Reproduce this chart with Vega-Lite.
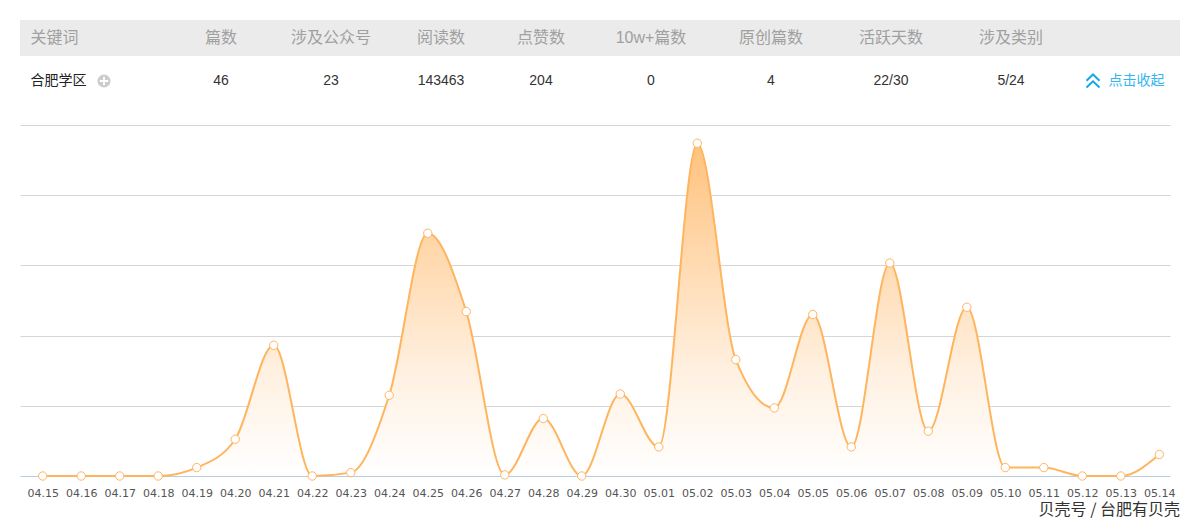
{
  "$schema": "https://vega.github.io/schema/vega-lite/v6.json",
  "background": "#ffffff",
  "padding": {"left": 20, "top": 20, "right": 0, "bottom": 0},
  "config": {"view": {"stroke": null}, "concat": {"spacing": 0}},
  "bounds": "full",
  "spacing": 19,
  "vconcat": [
    {
      "bounds": "full",
      "spacing": 0,
      "vconcat": [
        {
          "bounds": "flush",
          "spacing": 0,
          "hconcat": [
            {"width": 69, "height": 36, "view": {"fill": "#ebebeb", "stroke": null}, "data": {"values": [{"t": "关键词"}]}, "mark": {"type": "text", "font": "Liberation Sans, Noto Sans CJK SC", "fontSize": 16, "color": "#a0a0a0", "baseline": "middle"}, "encoding": {"text": {"field": "t"}}},
            {"width": 77, "height": 36, "view": {"fill": "#ebebeb", "stroke": null}, "data": {"values": [{}]}, "mark": {"type": "text", "text": ""}},
            {"width": 110, "height": 36, "view": {"fill": "#ebebeb", "stroke": null}, "data": {"values": [{"t": "篇数"}]}, "mark": {"type": "text", "font": "Liberation Sans, Noto Sans CJK SC", "fontSize": 16, "color": "#a0a0a0", "baseline": "middle"}, "encoding": {"text": {"field": "t"}}},
            {"width": 110, "height": 36, "view": {"fill": "#ebebeb", "stroke": null}, "data": {"values": [{"t": "涉及公众号"}]}, "mark": {"type": "text", "font": "Liberation Sans, Noto Sans CJK SC", "fontSize": 16, "color": "#a0a0a0", "baseline": "middle"}, "encoding": {"text": {"field": "t"}}},
            {"width": 110, "height": 36, "view": {"fill": "#ebebeb", "stroke": null}, "data": {"values": [{"t": "阅读数"}]}, "mark": {"type": "text", "font": "Liberation Sans, Noto Sans CJK SC", "fontSize": 16, "color": "#a0a0a0", "baseline": "middle"}, "encoding": {"text": {"field": "t"}}},
            {"width": 90, "height": 36, "view": {"fill": "#ebebeb", "stroke": null}, "data": {"values": [{"t": "点赞数"}]}, "mark": {"type": "text", "font": "Liberation Sans, Noto Sans CJK SC", "fontSize": 16, "color": "#a0a0a0", "baseline": "middle"}, "encoding": {"text": {"field": "t"}}},
            {"width": 130, "height": 36, "view": {"fill": "#ebebeb", "stroke": null}, "data": {"values": [{"t": "10w+篇数"}]}, "mark": {"type": "text", "font": "Liberation Sans, Noto Sans CJK SC", "fontSize": 16, "color": "#a0a0a0", "baseline": "middle"}, "encoding": {"text": {"field": "t"}}},
            {"width": 110, "height": 36, "view": {"fill": "#ebebeb", "stroke": null}, "data": {"values": [{"t": "原创篇数"}]}, "mark": {"type": "text", "font": "Liberation Sans, Noto Sans CJK SC", "fontSize": 16, "color": "#a0a0a0", "baseline": "middle"}, "encoding": {"text": {"field": "t"}}},
            {"width": 130, "height": 36, "view": {"fill": "#ebebeb", "stroke": null}, "data": {"values": [{"t": "活跃天数"}]}, "mark": {"type": "text", "font": "Liberation Sans, Noto Sans CJK SC", "fontSize": 16, "color": "#a0a0a0", "baseline": "middle"}, "encoding": {"text": {"field": "t"}}},
            {"width": 110, "height": 36, "view": {"fill": "#ebebeb", "stroke": null}, "data": {"values": [{"t": "涉及类别"}]}, "mark": {"type": "text", "font": "Liberation Sans, Noto Sans CJK SC", "fontSize": 16, "color": "#a0a0a0", "baseline": "middle"}, "encoding": {"text": {"field": "t"}}},
            {"width": 114, "height": 36, "view": {"fill": "#ebebeb", "stroke": null}, "data": {"values": [{}]}, "mark": {"type": "text", "text": ""}}
          ]
        },
        {
          "bounds": "flush",
          "spacing": 0,
          "hconcat": [
            {"width": 77, "height": 50, "data": {"values": [{"t": "合肥学区"}]}, "mark": {"type": "text", "font": "Liberation Sans, Noto Sans CJK SC", "fontSize": 14, "color": "#222222", "baseline": "middle"}, "encoding": {"text": {"field": "t"}}},
            {"width": 14, "height": 50, "data": {"values": [{}]}, "layer": [
              {"mark": {"type": "point", "shape": "circle", "filled": true, "color": "#cccccc", "opacity": 1, "size": 170}},
              {"mark": {"type": "point", "shape": "M-1,0L1,0M0,-1L0,1", "filled": false, "color": "#ffffff", "opacity": 1, "strokeWidth": 1.8, "size": 72}}
            ]},
            {"width": 55, "height": 50, "data": {"values": [{}]}, "mark": {"type": "text", "text": ""}},
            {"width": 110, "height": 50, "data": {"values": [{"t": "46"}]}, "mark": {"type": "text", "font": "Liberation Sans, Noto Sans CJK SC", "fontSize": 14, "color": "#333333", "baseline": "middle"}, "encoding": {"text": {"field": "t"}}},
            {"width": 110, "height": 50, "data": {"values": [{"t": "23"}]}, "mark": {"type": "text", "font": "Liberation Sans, Noto Sans CJK SC", "fontSize": 14, "color": "#333333", "baseline": "middle"}, "encoding": {"text": {"field": "t"}}},
            {"width": 110, "height": 50, "data": {"values": [{"t": "143463"}]}, "mark": {"type": "text", "font": "Liberation Sans, Noto Sans CJK SC", "fontSize": 14, "color": "#333333", "baseline": "middle"}, "encoding": {"text": {"field": "t"}}},
            {"width": 90, "height": 50, "data": {"values": [{"t": "204"}]}, "mark": {"type": "text", "font": "Liberation Sans, Noto Sans CJK SC", "fontSize": 14, "color": "#333333", "baseline": "middle"}, "encoding": {"text": {"field": "t"}}},
            {"width": 130, "height": 50, "data": {"values": [{"t": "0"}]}, "mark": {"type": "text", "font": "Liberation Sans, Noto Sans CJK SC", "fontSize": 14, "color": "#333333", "baseline": "middle"}, "encoding": {"text": {"field": "t"}}},
            {"width": 110, "height": 50, "data": {"values": [{"t": "4"}]}, "mark": {"type": "text", "font": "Liberation Sans, Noto Sans CJK SC", "fontSize": 14, "color": "#333333", "baseline": "middle"}, "encoding": {"text": {"field": "t"}}},
            {"width": 130, "height": 50, "data": {"values": [{"t": "22/30"}]}, "mark": {"type": "text", "font": "Liberation Sans, Noto Sans CJK SC", "fontSize": 14, "color": "#333333", "baseline": "middle"}, "encoding": {"text": {"field": "t"}}},
            {"width": 110, "height": 50, "data": {"values": [{"t": "5/24"}]}, "mark": {"type": "text", "font": "Liberation Sans, Noto Sans CJK SC", "fontSize": 14, "color": "#333333", "baseline": "middle"}, "encoding": {"text": {"field": "t"}}},
            {"width": 18, "height": 50, "data": {"values": [{}]}, "mark": {"type": "text", "text": ""}},
            {"width": 18, "height": 50, "data": {"values": [{}]}, "mark": {"type": "point", "shape": "M-1,-0.05L0,-1L1,-0.05M-1,1L0,0.05L1,1", "filled": false, "color": "#16a6e9", "opacity": 1, "strokeWidth": 2, "size": 169}},
            {"width": 69, "height": 50, "data": {"values": [{"t": "点击收起"}]}, "mark": {"type": "text", "font": "Noto Sans CJK SC", "fontSize": 14, "color": "#33b5f0", "baseline": "middle"}, "encoding": {"text": {"field": "t"}}}
          ]
        }
      ]
    },
    {
      "width": 1150,
      "height": 351,
      "data": {"values": [
        {"date": "04.15", "reads": 0},
        {"date": "04.16", "reads": 0},
        {"date": "04.17", "reads": 0},
        {"date": "04.18", "reads": 0},
        {"date": "04.19", "reads": 600},
        {"date": "04.20", "reads": 2620},
        {"date": "04.21", "reads": 9310},
        {"date": "04.22", "reads": 0},
        {"date": "04.23", "reads": 240},
        {"date": "04.24", "reads": 5750},
        {"date": "04.25", "reads": 17290},
        {"date": "04.26", "reads": 11710},
        {"date": "04.27", "reads": 80},
        {"date": "04.28", "reads": 4090},
        {"date": "04.29", "reads": 0},
        {"date": "04.30", "reads": 5840},
        {"date": "05.01", "reads": 2070},
        {"date": "05.02", "reads": 23700},
        {"date": "05.03", "reads": 8290},
        {"date": "05.04", "reads": 4850},
        {"date": "05.05", "reads": 11500},
        {"date": "05.06", "reads": 2070},
        {"date": "05.07", "reads": 15170},
        {"date": "05.08", "reads": 3190},
        {"date": "05.09", "reads": 12020},
        {"date": "05.10", "reads": 600},
        {"date": "05.11", "reads": 600},
        {"date": "05.12", "reads": 0},
        {"date": "05.13", "reads": 0},
        {"date": "05.14", "reads": 1530}
      ]},
      "title": {"text": "贝壳号 / 台肥有贝壳", "orient": "bottom", "anchor": "end", "font": "Noto Sans CJK SC", "fontSize": 16, "fontWeight": "normal", "color": "#333333", "offset": 4, "dx": 5},
      "encoding": {
        "x": {"field": "date", "type": "ordinal", "sort": null, "scale": {"type": "point", "padding": 0.4337, "align": 0.68}, "axis": {"title": null, "ticks": false, "grid": false, "domainColor": "#b9cde1", "domainWidth": 1, "labelFont": "DejaVu Sans", "labelFontSize": 11, "labelColor": "#555555", "labelPadding": 11, "labelAngle": 0, "labelOverlap": false}},
        "y": {"field": "reads", "type": "quantitative", "scale": {"domain": [0, 25000], "nice": false, "zero": true}, "axis": {"title": null, "labels": false, "ticks": false, "domain": false, "grid": true, "gridColor": "#d6d6d6", "values": [5000, 10000, 15000, 20000, 25000], "minExtent": 0, "maxExtent": 0}}
      },
      "layer": [
        {"mark": {"type": "area", "interpolate": "monotone", "color": {"gradient": "linear", "x1": 0, "y1": 0, "x2": 0, "y2": 1, "stops": [{"offset": 0, "color": "#ffc27d"}, {"offset": 0.7, "color": "#fff1e2"}, {"offset": 1, "color": "#ffffff"}]}}},
        {"mark": {"type": "line", "interpolate": "monotone", "color": "#ffb45e", "strokeWidth": 2}},
        {"mark": {"type": "point", "shape": "circle", "filled": true, "fill": "#ffffff", "stroke": "#ffb45e", "strokeWidth": 1, "size": 70, "opacity": 1}}
      ]
    }
  ]
}
